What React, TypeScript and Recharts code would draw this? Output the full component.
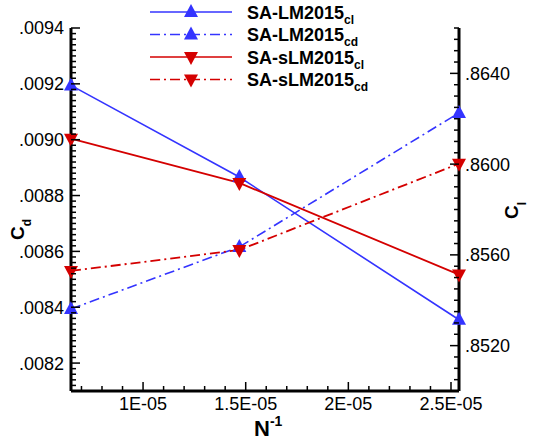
import React from "react";
import { ComposedChart, Line, XAxis, YAxis } from "recharts";

// ─── Data ──────────────────────────────────────────────────────────────────────

// inverse mesh size 1/N for the three grids
const nInv = [6.49e-6, 1.469e-5, 2.539e-5];

const lmCl = [0.86347, 0.85943, 0.85314];
const lmCd = [0.008394, 0.008616, 0.009096];
const slmCl = [0.86112, 0.85917, 0.85513];
const slmCd = [0.00853, 0.008605, 0.008914];

const xMajor = [1e-5, 1.5e-5, 2e-5, 2.5e-5];
const xLabels = ["1E-05", "1.5E-05", "2E-05", "2.5E-05"];
const cdMajor = [0.0082, 0.0084, 0.0086, 0.0088, 0.009, 0.0092, 0.0094];
const clMajor = [0.852, 0.856, 0.86, 0.864];

const cdDomain = [0.0081, 0.0094];
const clDomain = [0.85, 0.866];

const data = nInv.map((x, i) => ({
  x,
  lmCl: lmCl[i],
  lmCd: lmCd[i],
  slmCl: slmCl[i],
  slmCd: slmCd[i],
}));

// minor ticks, integer steps to avoid float drift
const range = (a: number, b: number, step: number) => {
  const out: number[] = [];
  for (let k = a; k <= b; k++) out.push(k * step);
  return out;
};
const xTicks = range(7, 25, 1e-6);
const cdTicks = range(405, 470, 0.00002);
const clTicks = range(1700, 1732, 0.0005);

const isMajor = (majors: number[], v: number, eps: number) =>
  majors.some((m) => Math.abs(m - v) < eps);

// ".0094" style labels
const fmt = (v: number) => v.toFixed(4).replace(/^0/, "");

// ─── Styles ────────────────────────────────────────────────────────────────────

const BLUE = "#3434ff";
const RED = "#d40000";
const FONT = "'Liberation Sans', Arial, Helvetica, sans-serif";
const DASH_DOT = "10 4 2 4";

// ─── Ticks (drawn inward, Tecplot style) ───────────────────────────────────────

const LeftTick = (props: any) => {
  const { x, y, payload } = props;
  const major = isMajor(cdMajor, payload.value, 1e-6);
  return (
    <g>
      <line x1={x} x2={x + (major ? 9 : 5)} y1={y} y2={y} stroke="#000" strokeWidth={1.5} />
      {major && (
        <text x={x - 7} y={y} dy="0.36em" textAnchor="end" fontSize={18} fontFamily={FONT} fill="#000">
          {fmt(payload.value)}
        </text>
      )}
    </g>
  );
};

const RightTick = (props: any) => {
  const { x, y, payload } = props;
  const major = isMajor(clMajor, payload.value, 1e-5);
  return (
    <g>
      <line x1={x} x2={x - (major ? 9 : 5)} y1={y} y2={y} stroke="#000" strokeWidth={1.5} />
      {major && (
        <text x={x + 6} y={y} dy="0.36em" textAnchor="start" fontSize={18} fontFamily={FONT} fill="#000">
          {fmt(payload.value)}
        </text>
      )}
    </g>
  );
};

const BottomTick = (props: any) => {
  const { x, y, payload } = props;
  const idx = xMajor.findIndex((m) => Math.abs(m - payload.value) < 1e-8);
  const major = idx >= 0;
  return (
    <g>
      <line x1={x} x2={x} y1={y} y2={y - (major ? 9 : 5)} stroke="#000" strokeWidth={1.5} />
      {major && (
        <text x={x} y={y + 19} textAnchor="middle" fontSize={18} fontFamily={FONT} fill="#000">
          {xLabels[idx]}
        </text>
      )}
    </g>
  );
};

// ─── Markers ───────────────────────────────────────────────────────────────────

const triUp = (cx: number, cy: number) =>
  `${cx},${cy - 8} ${cx - 7},${cy + 5} ${cx + 7},${cy + 5}`;
const triDown = (cx: number, cy: number) =>
  `${cx - 7},${cy - 5} ${cx + 7},${cy - 5} ${cx},${cy + 8}`;

const upDot = (color: string) => (p: any) => (
  <polygon key={`u${p.index}`} points={triUp(p.cx, p.cy)} fill={color} />
);
const downDot = (color: string) => (p: any) => (
  <polygon key={`d${p.index}`} points={triDown(p.cx, p.cy)} fill={color} />
);

// ─── Legend ────────────────────────────────────────────────────────────────────

const legendItems = [
  { name: "SA-LM2015", sub: "cl", color: BLUE, dash: undefined, up: true },
  { name: "SA-LM2015", sub: "cd", color: BLUE, dash: DASH_DOT, up: true },
  { name: "SA-sLM2015", sub: "cl", color: RED, dash: undefined, up: false },
  { name: "SA-sLM2015", sub: "cd", color: RED, dash: DASH_DOT, up: false },
];

export default function App() {
  return (
    <div style={{ position: "absolute", left: 0, top: 0, width: 534, height: 440, background: "#fff" }}>
      <ComposedChart
        width={534}
        height={440}
        data={data}
        margin={{ top: 28, right: 10, bottom: 9, left: 11 }}
      >
        <XAxis
          dataKey="x"
          type="number"
          domain={["dataMin", "dataMax"]}
          ticks={xTicks}
          interval={0}
          tickSize={0}
          tickMargin={0}
          tickLine={false}
          tick={<BottomTick />}
          axisLine={{ stroke: "#000", strokeWidth: 3 }}
          height={40}
        />
        <YAxis
          yAxisId="cd"
          orientation="left"
          type="number"
          domain={cdDomain}
          ticks={cdTicks}
          interval={0}
          tickSize={0}
          tickMargin={0}
          tickLine={false}
          tick={<LeftTick />}
          axisLine={{ stroke: "#000", strokeWidth: 3 }}
          width={60}
        />
        <YAxis
          yAxisId="cl"
          orientation="right"
          type="number"
          domain={clDomain}
          ticks={clTicks}
          interval={0}
          tickSize={0}
          tickMargin={0}
          tickLine={false}
          tick={<RightTick />}
          axisLine={{ stroke: "#000", strokeWidth: 3 }}
          width={65}
        />
        <Line yAxisId="cl" dataKey="lmCl" type="linear" stroke={BLUE} strokeWidth={1.6}
          dot={upDot(BLUE)} activeDot={false} isAnimationActive={false} />
        <Line yAxisId="cd" dataKey="lmCd" type="linear" stroke={BLUE} strokeWidth={1.6}
          strokeDasharray={DASH_DOT} dot={upDot(BLUE)} activeDot={false} isAnimationActive={false} />
        <Line yAxisId="cl" dataKey="slmCl" type="linear" stroke={RED} strokeWidth={1.8}
          dot={downDot(RED)} activeDot={false} isAnimationActive={false} />
        <Line yAxisId="cd" dataKey="slmCd" type="linear" stroke={RED} strokeWidth={1.8}
          strokeDasharray={DASH_DOT} dot={downDot(RED)} activeDot={false} isAnimationActive={false} />
      </ComposedChart>

      {/* legend and axis titles */}
      <svg
        width={534}
        height={440}
        style={{ position: "absolute", left: 0, top: 0, pointerEvents: "none" }}
        fontFamily={FONT}
      >
        {legendItems.map((it, i) => {
          const y = 12 + i * 22.5;
          return (
            <g key={i}>
              <line x1={150} x2={232} y1={y} y2={y} stroke={it.color} strokeWidth={1.7}
                strokeDasharray={it.dash} />
              <polygon points={it.up ? triUp(191, y) : triDown(191, y)} fill={it.color} />
              <text x={247} y={y + 6.5} fontSize={18} fontWeight="bold" fill="#000">
                {it.name}
                <tspan fontSize={12} dy={5}>{it.sub}</tspan>
              </text>
            </g>
          );
        })}

        <text transform="rotate(-90, 24, 240)" x={24} y={240} fontSize={19} fontWeight="bold" fill="#000">
          C<tspan fontSize={12} dy={7}>d</tspan>
        </text>
        <text transform="rotate(-90, 518, 219)" x={518} y={219} fontSize={19} fontWeight="bold" fill="#000">
          C<tspan fontSize={12} dy={8}>l</tspan>
        </text>
        <text x={254} y={436} fontSize={22} fontWeight="bold" fill="#000">
          N<tspan fontSize={14} dy={-10}>-1</tspan>
        </text>
      </svg>
    </div>
  );
}
